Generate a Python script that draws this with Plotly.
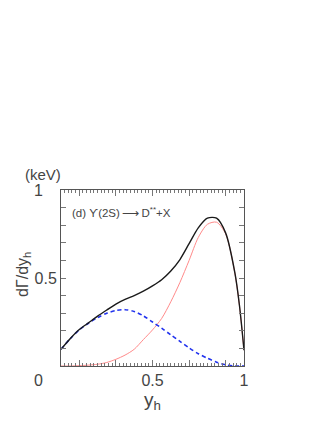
import plotly.graph_objects as go

x_grid = [0, 0.05, 0.1, 0.15, 0.2, 0.25, 0.3, 0.35, 0.4, 0.45, 0.5, 0.55,
          0.6, 0.65, 0.7, 0.75, 0.8, 0.85, 0.9, 0.95, 0.975, 1.0]

# total (black solid)
y_total = [0.095, 0.155, 0.207, 0.245, 0.283, 0.318, 0.352, 0.378, 0.4, 0.425, 0.455, 0.49,
           0.54, 0.605, 0.695, 0.785, 0.84, 0.84, 0.755, 0.53, 0.345, 0.09]
# red thin component
y_red = [0.0, 0.0, 0.002, 0.005, 0.01, 0.02, 0.038, 0.062, 0.095, 0.15, 0.205, 0.27,
         0.365, 0.475, 0.6, 0.73, 0.805, 0.817, 0.75, 0.528, 0.344, 0.09]
# blue dashed component
y_blue = [0.095, 0.155, 0.205, 0.243, 0.275, 0.3, 0.315, 0.32, 0.31, 0.285, 0.25, 0.215,
          0.177, 0.14, 0.103, 0.07, 0.044, 0.022, 0.007, 0.0, 0.0, 0.0]

x_tickvals = [0.1, 0.3, 0.5, 0.7, 0.9, 1.0]
x_ticktext = ["", "", "0.5", "", "", "1"]
y_tickvals = [0.1, 0.2, 0.3, 0.4, 0.5, 0.6, 0.7, 0.8, 0.9]
y_ticktext = ["", "", "", "", "0.5", "", "", "", ""]

grey = "#444444"
font = "Liberation Sans, Arial, sans-serif"

fig = go.Figure()

fig.add_trace(go.Scatter(x=x_grid, y=y_red, mode="lines",
                         line=dict(color="#ff8a8a", width=1, shape="spline", smoothing=0.8)))
fig.add_trace(go.Scatter(x=x_grid, y=y_blue, mode="lines",
                         line=dict(color="#2233ee", width=1.6, dash="4px,3px",
                                   shape="spline", smoothing=0.8)))
fig.add_trace(go.Scatter(x=x_grid, y=y_total, mode="lines",
                         line=dict(color="#1a1a1a", width=1.4, shape="spline", smoothing=0.8)))

fig.update_layout(
    width=330, height=427,
    margin=dict(l=53, r=94, t=182, b=69),
    paper_bgcolor="white", plot_bgcolor="white",
    showlegend=False,
    font=dict(family=font, color=grey, size=15),
)

fig.update_xaxes(
    range=[0, 1], showgrid=False, zeroline=False,
    showline=True, linecolor="#555555", linewidth=1, mirror="allticks",
    tickmode="array", tickvals=x_tickvals, ticktext=x_ticktext,
    ticks="inside", ticklen=6, tickcolor="#777777",
    minor=dict(dtick=0.02, tick0=0, ticks="inside", ticklen=3, tickcolor="#777777"),
    tickfont=dict(size=16, color=grey),
    title=dict(text="y<sub>h</sub>", font=dict(size=19, color=grey), standoff=2),
)
fig.update_yaxes(
    range=[0, 1], showgrid=False, zeroline=False,
    showline=True, linecolor="#555555", linewidth=1, mirror="allticks",
    tickmode="array", tickvals=y_tickvals, ticktext=y_ticktext,
    ticks="inside", ticklen=5, tickcolor="#777777",
    tickfont=dict(size=16, color=grey),
)

# labels placed off the axes (paper coords)
fig.add_annotation(x=-0.125, y=-0.02, xref="paper", yref="paper", text="0", showarrow=False,
                   xanchor="center", yanchor="top", font=dict(size=16, color=grey))
fig.add_annotation(x=-0.125, y=1.0, xref="paper", yref="paper", text="1", showarrow=False,
                   xanchor="center", yanchor="middle", font=dict(size=16, color=grey))
fig.add_annotation(x=-0.1, y=1.09, xref="paper", yref="paper", text="(keV)", showarrow=False,
                   xanchor="center", yanchor="middle", font=dict(size=15, color=grey))
fig.add_annotation(x=-0.205, y=0.52, xref="paper", yref="paper", text="dΓ/dy<sub>h</sub>",
                   textangle=-90, showarrow=False, xanchor="center", yanchor="middle",
                   font=dict(size=16, color=grey))
fig.add_annotation(x=0.05, y=0.875, xref="paper", yref="paper", xanchor="left",
                   yanchor="middle",
                   text="(d) ϒ(2S)\u2009⟶\u2009D<sup>**</sup>+X", showarrow=False,
                   font=dict(size=11.5, color=grey))

fig.write_html("out.html")
